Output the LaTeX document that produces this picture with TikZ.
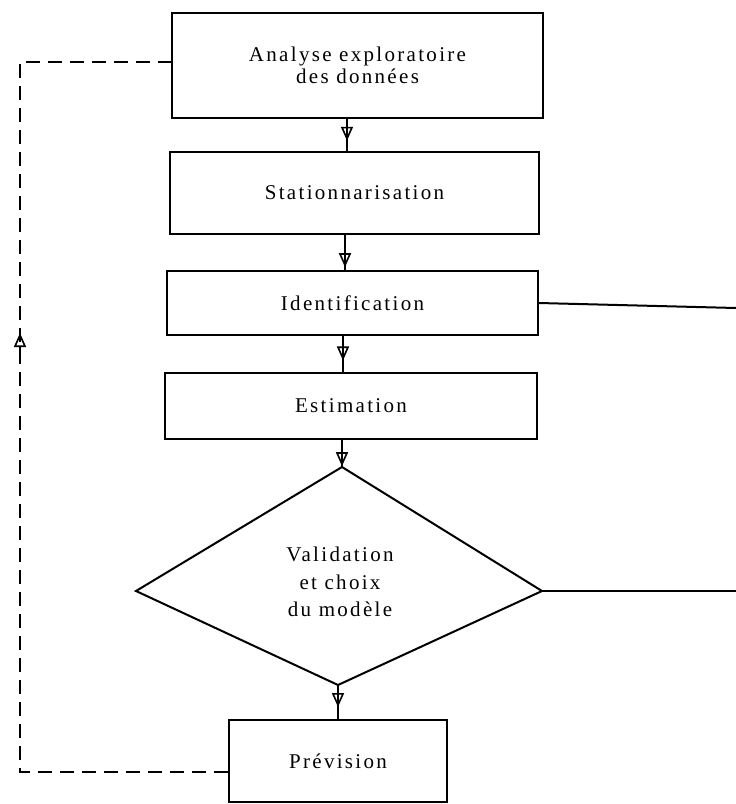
\documentclass[tikz,border=0pt]{standalone}
\usepackage{fontspec}
\setmainfont{Liberation Serif}[LetterSpace=11]
\usetikzlibrary{arrows.meta,decorations.markings}
\begin{document}
\begin{tikzpicture}[x=1pt,y=-1pt,
  boxnode/.style={draw,line width=2pt,rectangle,inner sep=0pt,align=center,font=\fontsize{21}{22}\selectfont},
  txt/.style={inner sep=0pt,align=center,font=\fontsize{21}{27.5}\selectfont},
  openhead/.tip={Triangle[open,length=14pt,width=12pt,line width=1.6pt]},
  flow/.style={line width=2pt},
  feedback/.style={line width=2pt,dash pattern=on 14pt off 8pt}]
\useasboundingbox (0,0) rectangle (736,804);
\node[boxnode,minimum width=371pt,minimum height=105pt] (b1) at (357.5,65.5) {Analyse exploratoire\\des données};
\node[boxnode,minimum width=369pt,minimum height=82pt] (b2) at (354.5,193) {Stationnarisation};
\node[boxnode,minimum width=371pt,minimum height=64pt] (b3) at (352.5,303) {Identification};
\node[boxnode,minimum width=372pt,minimum height=66pt] (b4) at (351,406) {Estimation};
\node[boxnode,minimum width=218pt,minimum height=82pt] (b5) at (338,761) {Prévision};
\coordinate (dT) at (342,467);
\coordinate (dL) at (136,591);
\coordinate (dR) at (542,591);
\coordinate (dB) at (338,685);
\draw[line width=2pt,line join=miter] (dT) -- (dR) -- (dB) -- (dL) -- cycle;
\node[txt] (dtext) at (340,582) {Validation\\et choix\\du modèle};
% main flow
\draw[flow,postaction={decorate},decoration={markings,mark=at position 0.68 with {\arrow{openhead}}}]
  (b1.south -| 347,0) -- (b2.north -| 347,0);
\draw[flow,postaction={decorate},decoration={markings,mark=at position 0.92 with {\arrow{openhead}}}]
  (b2.south -| 345,0) -- (b3.north -| 345,0);
\draw[flow,postaction={decorate},decoration={markings,mark=at position 0.68 with {\arrow{openhead}}}]
  (b3.south -| 343,0) -- (b4.north -| 343,0);
\draw[flow,postaction={decorate},decoration={markings,mark=at position 0.97 with {\arrow{openhead}}}]
  (b4.south -| dT) -- (dT);
\draw[flow,postaction={decorate},decoration={markings,mark=at position 0.65 with {\arrow{openhead}}}]
  (dB) -- (b5.north -| dB);
% exits to the right
\coordinate (ex1) at (736,308);
\coordinate (ex2) at (736,591);
\draw[flow] (b3.east) -- (ex1);
\draw[flow] (dR) -- (ex2);
% feedback loop
\coordinate (fbBot) at (20,772);
\coordinate (fbTop) at (20,62);
\draw[feedback] (b5.west |- fbBot) -- (fbBot) -- (fbTop) -- (b1.west |- fbTop);
\draw[flow,-{openhead}] (20,356) -- (20,333);
\end{tikzpicture}
\end{document}
